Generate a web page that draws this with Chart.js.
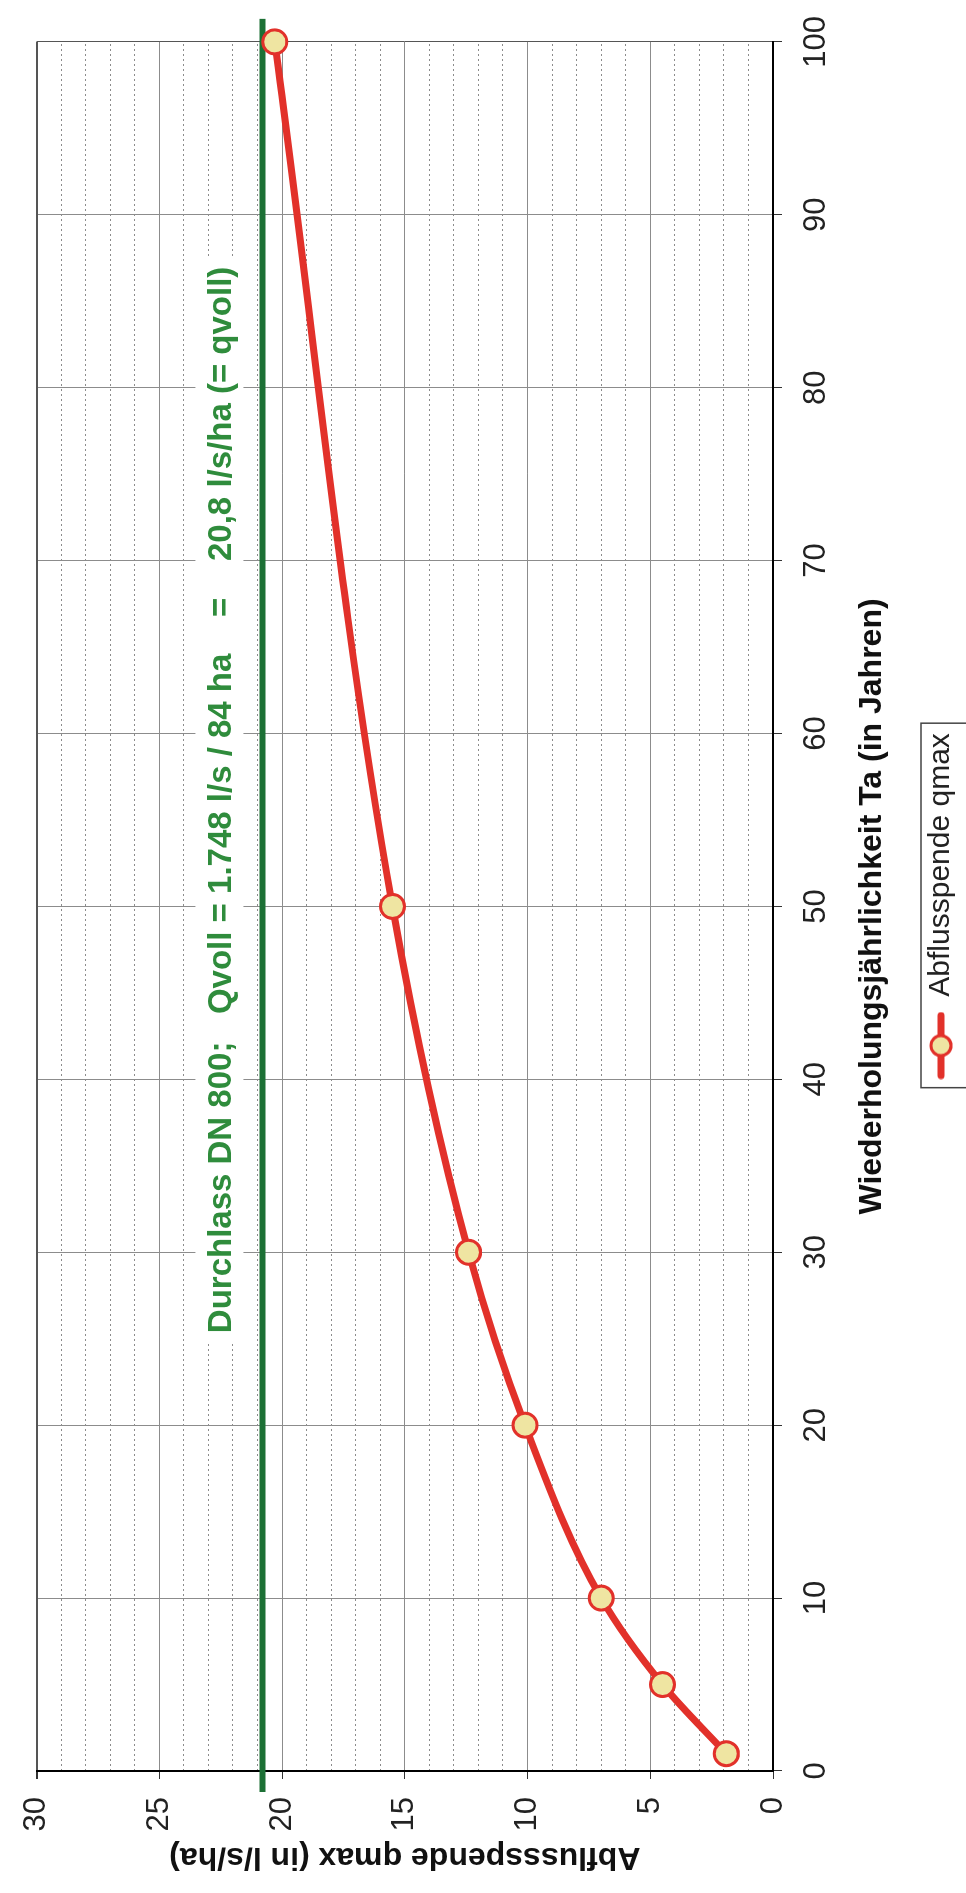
<!DOCTYPE html>
<html lang="de">
<head>
<meta charset="utf-8">
<title>Abflussspende qmax</title>
<script src="https://cdn.jsdelivr.net/npm/chart.js@4/dist/chart.umd.min.js"></script>
<style>
  html, body { margin: 0; padding: 0; background: #fff; overflow: hidden; width: 966px; height: 1893px; }
  /* the chart is laid out in landscape and turned a quarter turn to the left */
  #frame { position: absolute; left: 0; top: 0; width: 1893px; height: 966px;
           transform-origin: 0 0; transform: translate(0, 1893px) rotate(-90deg); background: #fff; }
  canvas { display: block; }
</style>
</head>
<body>
<div id="frame"><canvas id="chart" width="1893" height="966"></canvas></div>
<script>
// Wiederholungsjährlichkeit Ta (Jahre) und Abflussspende qmax (l/s/ha)
const jahre = [1, 5, 10, 20, 30, 50, 100];
const qmax = [1.9, 4.5, 7.0, 10.1, 12.4, 15.5, 20.3];

// Leistungsfähigkeit des Durchlasses DN 800 als Abflussspende
const qvoll = 20.8;
const qvollText = 'Durchlass DN 800;   Qvoll = 1.748 l/s / 84 ha    =    20,8 l/s/ha (= qvoll)';

// Achsteilungen
const xTickValues = [0, 10, 20, 30, 40, 50, 60, 70, 80, 90, 100];
const yTickValues = [0, 5, 10, 15, 20, 25, 30];
const yMinorValues = [1, 2, 3, 4, 6, 7, 8, 9, 11, 12, 13, 14, 16, 17, 18, 19, 21, 22, 23, 24, 26, 27, 28, 29];

const seriesLabel = 'Abflusspende qmax';
const xTitle = 'Wiederholungsjährlichkeit Ta (in Jahren)';
const yTitle = 'Abflussspende qmax (in l/s/ha)';

const FONT = '"Liberation Sans", Arial, Helvetica, sans-serif';
const RED = '#e2312a';
const MARKER_FILL = '#efe5a2';
const GREEN_LINE = '#1c7035';
const GREEN_TEXT = '#2f8c3c';
const GRID = '#8c8c8c';

// legend symbol: line with a circle marker
function legendSymbol() {
  const c = document.createElement('canvas');
  c.width = 68; c.height = 28;
  const g = c.getContext('2d');
  g.strokeStyle = RED;
  g.lineCap = 'round';
  g.lineWidth = 7;
  g.beginPath(); g.moveTo(4, 14); g.lineTo(64, 14); g.stroke();
  g.beginPath(); g.arc(34, 14, 10, 0, Math.PI * 2);
  g.fillStyle = MARKER_FILL; g.fill();
  g.lineWidth = 3; g.stroke();
  return c;
}

// horizontal qvoll line with its caption
const qvollPlugin = {
  id: 'qvollLine',
  beforeDatasetsDraw(chart) {
    const {ctx, chartArea, scales} = chart;
    const yPix = scales.y.getPixelForValue(qvoll);
    ctx.save();
    // caption on a white ground, ending near Ta = 87
    ctx.font = 'bold 33px ' + FONT;
    const w = ctx.measureText(qvollText).width;
    const xEnd = scales.x.getPixelForValue(87.0);
    const base = yPix - 31;
    ctx.fillStyle = '#fff';
    ctx.fillRect(xEnd - w - 8, base - 36, w + 16, 48);
    ctx.fillStyle = GREEN_TEXT;
    ctx.textBaseline = 'alphabetic';
    ctx.textAlign = 'right';
    ctx.fillText(qvollText, xEnd, base);
    // line reaching a little past the plot frame
    ctx.strokeStyle = GREEN_LINE;
    ctx.lineWidth = 6;
    ctx.beginPath();
    ctx.moveTo(chartArea.left - 21, yPix);
    ctx.lineTo(chartArea.right + 23, yPix);
    ctx.stroke();
    ctx.restore();
  }
};

// frame around the legend entry
const legendFramePlugin = {
  id: 'legendFrame',
  afterDraw(chart) {
    const lg = chart.legend;
    if (!lg || !lg.legendHitBoxes || !lg.legendHitBoxes.length) return;
    const hb = lg.legendHitBoxes[0];
    const {ctx} = chart;
    ctx.save();
    ctx.strokeStyle = '#444';
    ctx.lineWidth = 1.5;
    ctx.strokeRect(hb.left - 8, hb.top - 5, hb.width + 18, chart.height - hb.top + 20);
    ctx.restore();
  }
};

const tickFont = { family: FONT, size: 31 };
const titleFont = { family: FONT, size: 32, weight: 'bold' };

new Chart(document.getElementById('chart'), {
  type: 'line',
  data: {
    datasets: [{
      label: seriesLabel,
      data: jahre.map((x, i) => ({ x, y: qmax[i] })),
      borderColor: RED,
      borderWidth: 7,
      cubicInterpolationMode: 'monotone',
      fill: false,
      pointRadius: 12,
      pointBorderWidth: 3,
      pointBackgroundColor: MARKER_FILL,
      pointBorderColor: RED,
      clip: false,
      yAxisID: 'y'
    }]
  },
  options: {
    responsive: false,
    animation: false,
    devicePixelRatio: 1,
    layout: { padding: { top: 22, right: 40, bottom: 0, left: 0 } },
    plugins: {
      tooltip: { enabled: false },
      legend: {
        position: 'bottom',
        fullSize: false,
        labels: {
          font: { family: FONT, size: 30 },
          color: '#222',
          usePointStyle: true,
          pointStyle: legendSymbol(),
          pointStyleWidth: 68,
          padding: 10
        }
      }
    },
    scales: {
      x: {
        type: 'linear',
        position: 'bottom',
        min: 0,
        max: 100,
        afterBuildTicks: s => { s.ticks = xTickValues.map(v => ({ value: v })); },
        ticks: { font: tickFont, color: '#222', padding: 16, maxRotation: 0, autoSkip: false },
        grid: {
          color: c => (c.tick && c.tick.value === 100) ? '#555' : GRID,
          lineWidth: 1,
          tickLength: 9,
          tickColor: '#333'
        },
        border: { color: '#000', width: 2 },
        title: { display: true, text: xTitle, font: titleFont, color: '#111', padding: { top: 0, bottom: 25 } },
        afterFit: s => { s.height = 143; }
      },
      y: {
        type: 'linear',
        position: 'left',
        min: 0,
        max: 30,
        afterBuildTicks: s => { s.ticks = yTickValues.map(v => ({ value: v })); },
        ticks: { font: tickFont, color: '#222', padding: 18 },
        grid: {
          color: c => (c.tick && c.tick.value === 30) ? '#555' : GRID,
          lineWidth: c => (c.tick && c.tick.value === 30) ? 2 : 1,
          tickLength: 8,
          tickColor: '#333'
        },
        border: { color: '#000', width: 2 },
        title: { display: true, text: yTitle, font: titleFont, color: '#111', padding: { top: 17, bottom: 0 } },
        afterFit: s => { s.width = 122; }
      },
      yMinor: {
        type: 'linear',
        position: 'left',
        min: 0,
        max: 30,
        afterBuildTicks: s => { s.ticks = yMinorValues.map(v => ({ value: v })); },
        ticks: { display: false },
        grid: { color: GRID, lineWidth: 1, drawTicks: false },
        border: { display: false, dash: [2, 3] },
        afterFit: s => { s.width = 0; }
      }
    }
  },
  plugins: [qvollPlugin, legendFramePlugin]
});
</script>
</body>
</html>
